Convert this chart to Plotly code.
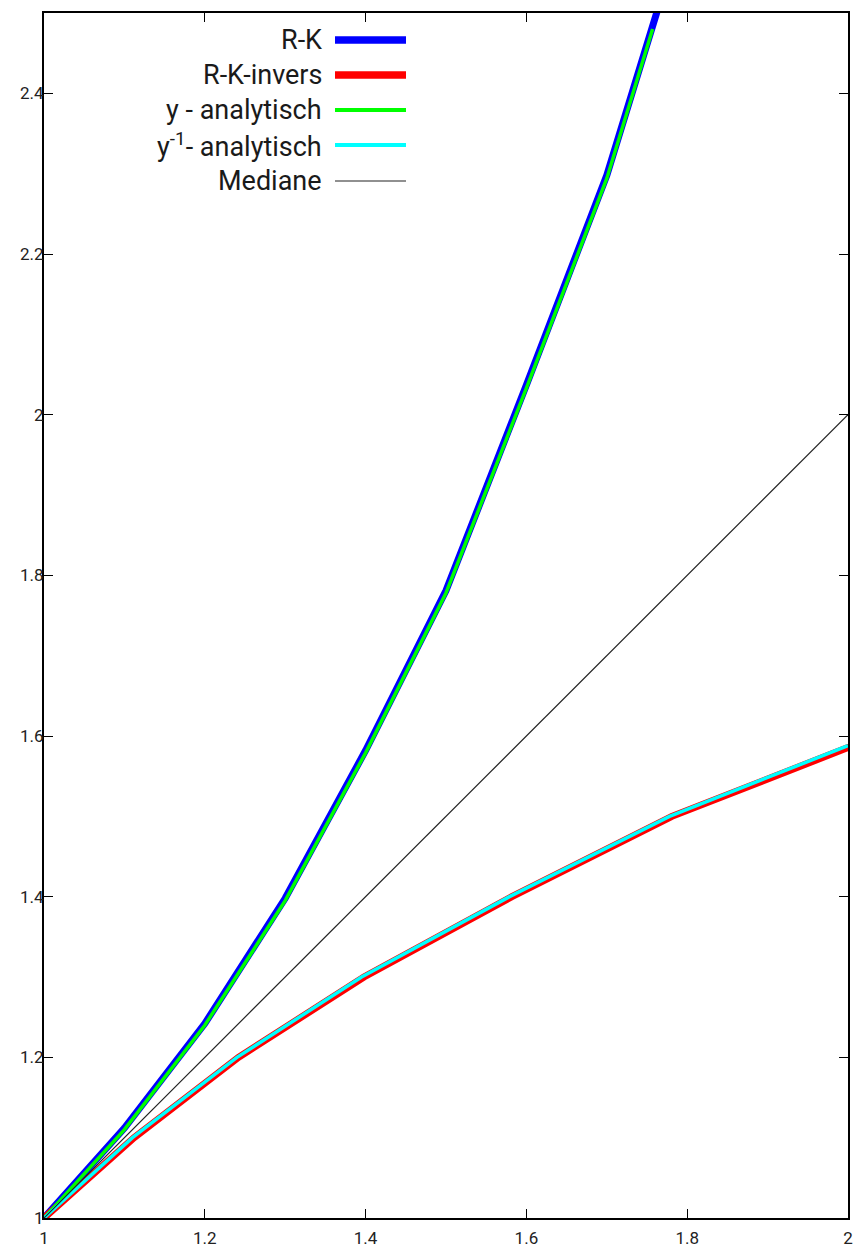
import plotly.graph_objects as go

# Runge-Kutta solution y(x), step 0.1 (last node lies above the visible range)
rk_x = [1.0, 1.1, 1.2, 1.3, 1.4, 1.5, 1.6, 1.7, 1.8]
rk_y = [1.0, 1.112, 1.242, 1.398, 1.582, 1.781, 2.037, 2.298, 2.624]

# Runge-Kutta solution of the inverse function (axes swapped)
rk_inv_x = [1.0, 1.112, 1.242, 1.398, 1.582, 1.781, 2.037]
rk_inv_y = [1.0, 1.1, 1.2, 1.3, 1.4, 1.5, 1.6]

# analytic solution y(x)
an_x = [1.0, 1.1, 1.2, 1.3, 1.4, 1.5, 1.6, 1.7, 1.757]
an_y = [1.0, 1.110, 1.240, 1.395, 1.579, 1.778, 2.033, 2.294, 2.480]

# analytic inverse y^-1(x)
an_inv_x = [1.0, 1.110, 1.240, 1.395, 1.579, 1.778, 2.0]
an_inv_y = [1.0, 1.1, 1.2, 1.3, 1.4, 1.5, 1.588]

# bisector y = x
med_x = [1.0, 2.0]
med_y = [1.0, 2.0]

x_ticks = [1.0, 1.2, 1.4, 1.6, 1.8, 2.0]
x_ticktext = ["1", "1.2", "1.4", "1.6", "1.8", "2"]
y_ticks = [1.0, 1.2, 1.4, 1.6, 1.8, 2.0, 2.2, 2.4]
y_ticktext = ["1", "1.2", "1.4", "1.6", "1.8", "2", "2.2", "2.4"]

names = ["R-K", "R-K-invers", "y - analytisch", "y<sup>-1</sup>- analytisch", "Mediane"]
colors = ["#0000ff", "#ff0000", "#00ff00", "#00ffff", "#222222"]
widths = [7, 7, 3.5, 3.5, 1.2]
legend_widths = [7.5, 7.5, 4, 4, 1.2]

series = [(rk_x, rk_y), (rk_inv_x, rk_inv_y), (an_x, an_y), (an_inv_x, an_inv_y), (med_x, med_y)]

W, H = 858, 1251
ML, MR, MT, MB = 44, 10, 13, 33
PW, PH = W - ML - MR, H - MT - MB

fig = go.Figure()
for (xs, ys), nm, c, w in zip(series, names, colors, widths):
    fig.add_trace(go.Scatter(x=xs, y=ys, mode="lines", name=nm,
                             line=dict(color=c, width=w), showlegend=False))


def px_x(p):
    return (p - ML) / PW


def px_y(p):
    return (H - MB - p) / PH


# key drawn inside the plot: right-aligned text followed by a line sample
row_y = [40, 75, 110, 145, 181]
annotations = []
shapes = []
for nm, c, lw, ry in zip(names, colors, legend_widths, row_y):
    annotations.append(dict(x=px_x(324), y=px_y(ry), xref="paper", yref="paper",
                            text=nm, showarrow=False, xanchor="right", yanchor="middle",
                            font=dict(family="Roboto", size=27, color="#1a1a1a")))
    shapes.append(dict(type="line", xref="paper", yref="paper",
                       x0=px_x(335), x1=px_x(406), y0=px_y(ry), y1=px_y(ry),
                       line=dict(color=c, width=lw)))

axis_common = dict(showgrid=False, zeroline=False, showline=True, linecolor="black",
                   linewidth=2, mirror="ticks", ticks="inside", ticklen=9,
                   tickwidth=1.3, tickcolor="black",
                   tickfont=dict(family="Roboto", size=17, color="#222222"))

fig.update_layout(
    width=W, height=H,
    margin=dict(l=ML, r=MR, t=MT, b=MB, autoexpand=False),
    plot_bgcolor="white", paper_bgcolor="white",
    xaxis=dict(range=[1, 2], tickvals=x_ticks, ticktext=x_ticktext,
               ticklabelstandoff=4, **axis_common),
    yaxis=dict(range=[1, 2.5], tickvals=y_ticks, ticktext=y_ticktext,
               ticklabelstandoff=-5, **axis_common),
    annotations=annotations,
    shapes=shapes,
    showlegend=False,
)

fig.write_html("out.html")
